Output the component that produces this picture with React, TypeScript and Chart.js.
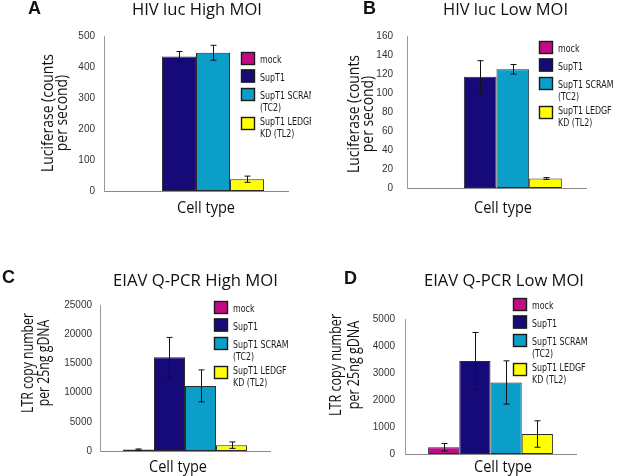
import React, { useEffect, useRef } from 'react';
import { Chart, registerables } from 'chart.js';

Chart.register(...registerables);

// ---------- data ----------
const categories = ['Cell type'];
const seriesNames = ['mock', 'SupT1', 'SupT1 SCRAM (TC2)', 'SupT1 LEDGF KD (TL2)'];
const legendLines = [['mock'], ['SupT1'], ['SupT1 SCRAM', '(TC2)'], ['SupT1 LEDGF', 'KD (TL2)']];
const seriesColors = ['#c20a84', '#160a78', '#0b9ec8', '#ffff00'];

const hivHighValues = [0, 434, 446, 38];
const hivHighErrors = [0, 16, 24, 10];
const hivHighAxis = [0, 500, 100]; // min, max, step

const hivLowValues = [0, 117, 125, 10];
const hivLowErrors = [0, 17, 5, 1];
const hivLowAxis = [0, 160, 20];

const eiavHighValues = [250, 16050, 11150, 1000];
const eiavHighErrors = [100, 3400, 2740, 550];
const eiavHighAxis = [0, 25000, 5000];

const eiavLowValues = [250, 3440, 2650, 740];
const eiavLowErrors = [140, 1060, 800, 490];
const eiavLowAxis = [0, 5000, 1000];

const panelLetters = ['A', 'B', 'C', 'D'];
const panelTitles = ['HIV luc High MOI', 'HIV luc Low MOI', 'EIAV Q-PCR High MOI', 'EIAV Q-PCR Low MOI'];
const hivYTitle = ['Luciferase (counts', 'per second)'];
const eiavYTitle = ['LTR copy number', 'per 25ng gDNA'];
const xTitle = 'Cell type';

// ---------- layout ----------
const PW = 311;
const PH = 238;
const TITLE_FONT = '"Open Sans", "Noto Sans", sans-serif';
const LEGEND_FONT = '11px "DejaVu Sans", sans-serif';
const LEGEND_SQUEEZE = 0.72;

const panels = [
  {
    left: 0, top: 0, letter: panelLetters[0], title: panelTitles[0], yTitle: hivYTitle,
    values: hivHighValues, errors: hivHighErrors, axis: hivHighAxis,
    area: { l: 104, r: 288, t: 36, b: 191 }, tickPad: 9, cat: 0.74,
    letterPos: { x: 28, y: 14 }, titlePos: { cx: 197, y: 15, w: 130 },
    yTitlePos: { xs: [53, 67], cy: 113, w: 118 }, xTitlePos: { cx: 206, y: 213, w: 58 },
    legend: { x: 241, y: 52 },
  },
  {
    left: 311, top: 0, letter: panelLetters[1], title: panelTitles[1], yTitle: hivYTitle,
    values: hivLowValues, errors: hivLowErrors, axis: hivLowAxis,
    area: { l: 96, r: 275, t: 36, b: 188 }, tickPad: 14, cat: 0.73,
    letterPos: { x: 52, y: 14 }, titlePos: { cx: 194.5, y: 15, w: 125 },
    yTitlePos: { xs: [48, 62], cy: 114, w: 118 }, xTitlePos: { cx: 192, y: 213, w: 58 },
    legend: { x: 228, y: 41 },
  },
  {
    left: 0, top: 238, letter: panelLetters[2], title: panelTitles[2], yTitle: eiavYTitle,
    values: eiavHighValues, errors: eiavHighErrors, axis: eiavHighAxis,
    area: { l: 100, r: 270, t: 67, b: 213 }, tickPad: 8, cat: 0.73,
    letterPos: { x: 2, y: 45 }, titlePos: { cx: 195.5, y: 47.5, w: 165 },
    yTitlePos: { xs: [33, 49], cy: 125, w: 100 }, xTitlePos: { cx: 178, y: 233.5, w: 58 },
    legend: { x: 214, y: 63 },
  },
  {
    left: 311, top: 238, letter: panelLetters[3], title: panelTitles[3], yTitle: eiavYTitle,
    values: eiavLowValues, errors: eiavLowErrors, axis: eiavLowAxis,
    area: { l: 94, r: 265, t: 81, b: 216 }, tickPad: 10, cat: 0.73,
    letterPos: { x: 33, y: 46 }, titlePos: { cx: 193, y: 47.5, w: 160 },
    yTitlePos: { xs: [30, 48], cy: 127, w: 102 }, xTitlePos: { cx: 192, y: 233.5, w: 58 },
    legend: { x: 202, y: 60 },
  },
];

const legendSwatchTops = [0, 17.5, 36, 65];
const legendTextYs = [[8.5], [26.5], [44.5, 56.5], [70.5, 82.5]];

// draw text at given font size, squeezed horizontally to target width
function drawFitted(
  ctx: CanvasRenderingContext2D, text: string, x: number, y: number,
  size: number, width: number, rotate = false, sxOverride?: number,
) {
  ctx.save();
  ctx.font = `400 ${size}px ${TITLE_FONT}`;
  const w = ctx.measureText(text).width;
  const sx = sxOverride ?? width / w;
  ctx.translate(x, y);
  if (rotate) ctx.rotate(-Math.PI / 2);
  ctx.scale(sx, 1);
  ctx.textAlign = 'center';
  ctx.textBaseline = 'alphabetic';
  ctx.fillText(text, 0, 0);
  ctx.restore();
  return sx;
}

const decorPlugin = {
  id: 'decor',
  afterDatasetsDraw(chart: any, _args: any, opts: any) {
    const ctx = chart.ctx as CanvasRenderingContext2D;
    const yScale = chart.scales.y;
    ctx.save();
    ctx.strokeStyle = '#111';
    ctx.lineWidth = 1;
    chart.data.datasets.forEach((ds: any, i: number) => {
      const meta = chart.getDatasetMeta(i);
      meta.data.forEach((el: any, j: number) => {
        const v = ds.data[j];
        const e = opts.errors[i];
        if (!e) return;
        const x = Math.round(el.x) + 0.5;
        const y1 = yScale.getPixelForValue(v + e);
        const y2 = yScale.getPixelForValue(Math.max(0, v - e));
        ctx.beginPath();
        ctx.moveTo(x, y1);
        ctx.lineTo(x, y2);
        ctx.moveTo(x - 3, y1);
        ctx.lineTo(x + 3, y1);
        ctx.moveTo(x - 3, y2);
        ctx.lineTo(x + 3, y2);
        ctx.stroke();
      });
    });
    ctx.restore();
  },
  afterDraw(chart: any, _args: any, opts: any) {
    const ctx = chart.ctx as CanvasRenderingContext2D;
    const p = opts.panel;
    ctx.save();
    ctx.fillStyle = '#111';
    ctx.textBaseline = 'alphabetic';

    // panel letter
    ctx.textAlign = 'left';
    ctx.font = 'bold 18px "Liberation Sans", Arial, sans-serif';
    ctx.fillText(p.letter, p.letterPos.x, p.letterPos.y);

    // title
    drawFitted(ctx, p.title, p.titlePos.cx, p.titlePos.y, 17, p.titlePos.w);

    // x title
    drawFitted(ctx, xTitle, p.xTitlePos.cx, p.xTitlePos.y, 16.5, p.xTitlePos.w);

    // y title (rotated, two lines, same squeeze)
    const sx = drawFitted(ctx, p.yTitle[0], p.yTitlePos.xs[0], p.yTitlePos.cy, 17, p.yTitlePos.w, true);
    drawFitted(ctx, p.yTitle[1], p.yTitlePos.xs[1], p.yTitlePos.cy, 17, 0, true, sx);

    // legend
    const lx = p.legend.x;
    const ly = p.legend.y;
    legendLines.forEach((lines, i) => {
      ctx.fillStyle = seriesColors[i];
      ctx.fillRect(lx, ly + legendSwatchTops[i], 14, 13);
      ctx.strokeStyle = '#1a1a1a';
      ctx.lineWidth = 1.4;
      ctx.strokeRect(lx + 0.5, ly + legendSwatchTops[i] + 0.5, 13, 12);
      ctx.fillStyle = '#1a1a1a';
      lines.forEach((t, k) => {
        ctx.save();
        ctx.translate(lx + 19, ly + legendTextYs[i][k]);
        ctx.scale(LEGEND_SQUEEZE, 1);
        ctx.font = LEGEND_FONT;
        ctx.textAlign = 'left';
        ctx.textBaseline = 'middle';
        ctx.fillText(t, 0, 0);
        ctx.restore();
      });
    });
    ctx.restore();
  },
};

function Panel({ p }: { p: any }) {
  const ref = useRef<HTMLCanvasElement | null>(null);
  useEffect(() => {
    if (!ref.current) return;
    const [min, max, step] = p.axis;
    const chart = new Chart(ref.current, {
      type: 'bar',
      data: {
        labels: categories,
        datasets: seriesNames.map((name, i) => ({
          label: name,
          data: [p.values[i]],
          backgroundColor: seriesColors[i],
          borderColor: '#2a2a2a',
          borderWidth: 1,
          borderSkipped: false,
          categoryPercentage: p.cat,
          barPercentage: 1,
        })),
      },
      options: {
        responsive: false,
        animation: false,
        events: [],
        layout: {
          padding: { left: 0, top: p.area.t, right: PW - p.area.r, bottom: PH - p.area.b },
        },
        plugins: {
          legend: { display: false },
          tooltip: { enabled: false },
          title: { display: false },
          decor: { panel: p, errors: p.errors },
        } as any,
        scales: {
          x: {
            type: 'category',
            ticks: { display: false },
            grid: { display: false, drawTicks: false },
            border: { display: true, color: '#8a8a8a', width: 1 },
            afterFit: (s: any) => { s.height = 0; },
          },
          y: {
            min,
            max,
            ticks: {
              stepSize: step,
              padding: p.tickPad,
              color: '#333',
              font: { family: '"Liberation Sans", Arial, sans-serif', size: 10 },
              callback: (v: any) => String(v),
            },
            grid: { display: false, drawTicks: false },
            border: { display: true, color: '#9a9a9a', width: 1 },
            afterFit: (s: any) => { s.width = p.area.l; },
          },
        },
      },
      plugins: [decorPlugin],
    } as any);
    return () => chart.destroy();
  }, [p]);
  return (
    <canvas
      ref={ref}
      width={PW}
      height={PH}
      style={{ position: 'absolute', left: p.left, top: p.top, width: PW, height: PH }}
    />
  );
}

export default function App() {
  return (
    <div style={{ position: 'absolute', left: 0, top: 0, width: 622, height: 476, background: '#fff', overflow: 'hidden' }}>
      {panels.map((p, i) => (
        <Panel key={i} p={p} />
      ))}
    </div>
  );
}
